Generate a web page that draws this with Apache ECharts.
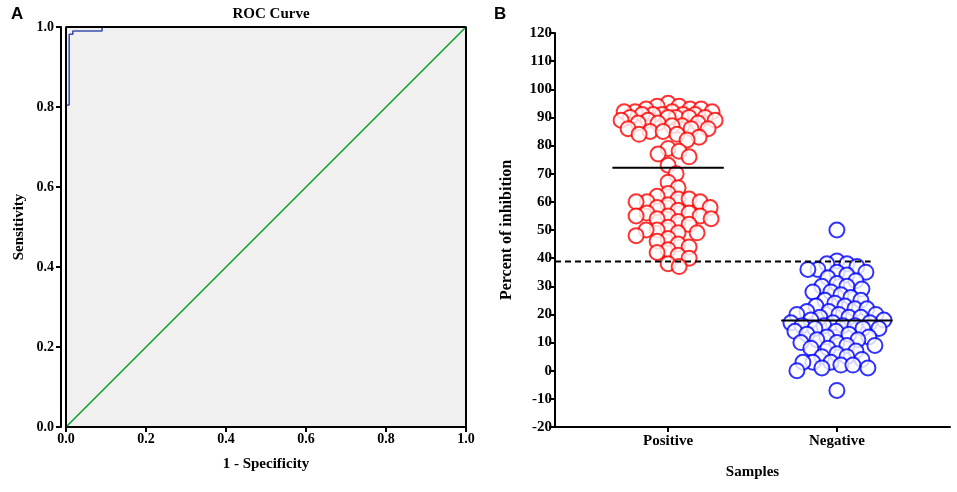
<!DOCTYPE html>
<html>
<head>
<meta charset="utf-8">
<script src="https://cdn.jsdelivr.net/npm/echarts@6/dist/echarts.min.js"></script>
<style>
  html, body { margin: 0; padding: 0; background: #fff; }
  #main { width: 957px; height: 492px; }
</style>
</head>
<body>
<div id="main"></div>
<script>
// ROC curve (panel A)
var rocFpr = [0, 0, 0.008, 0.008, 0.017, 0.017, 0.09, 0.09, 1];
var rocTpr = [0, 0.805, 0.805, 0.982, 0.982, 0.99, 0.99, 1, 1];

// Percent of inhibition (panel B)
var sampleNames = ['Positive', 'Negative'];
var positiveVals = [95, 94, 94, 93, 93, 93, 92, 92, 92, 92, 91, 91, 91, 91, 91, 90, 90, 90, 90, 90,
  89, 89, 89, 88, 88, 88, 87, 87, 86, 86, 86, 85, 85, 84, 84, 83, 82,
  79, 78, 77, 76, 73, 70, 67, 65, 63,
  62, 61, 61, 60, 60, 60, 59, 58, 58, 57, 56, 56, 55, 55, 55, 54, 54, 53, 52, 51, 50, 50, 49, 49,
  48, 47, 46, 45, 44, 43, 42, 41, 40, 38, 37];
var negativeVals = [50, 39, 38, 38, 37, 36, 36, 35, 35, 34, 33, 32, 31, 30, 30, 29, 28, 28, 27, 26,
  25, 25, 24, 23, 23, 22, 22, 21, 21, 20, 20, 20, 19, 19, 19, 18, 18, 17, 17, 17,
  16, 16, 16, 16, 15, 15, 15, 14, 14, 13, 13, 12, 12, 11, 11, 10, 10, 9, 9, 8,
  8, 7, 6, 5, 5, 4, 3, 3, 3, 2, 2, 1, 1, 0, -7];
var positiveMean = 72.1;
var negativeMean = 17.8;
var cutoff = 38.8;

var serif = 'Liberation Serif';
var chart = echarts.init(document.getElementById('main'));

var rocData = rocFpr.map(function (x, i) { return [x, rocTpr[i]]; });

var option = {
  animation: false,
  title: {
    text: 'ROC Curve',
    left: 266, top: 2, textAlign: 'center',
    textStyle: { fontFamily: serif, fontWeight: 'bold', fontSize: 15, color: '#000' }
  },
  graphic: [
    { type: 'text', left: 11, top: 6, style: { text: 'A', font: 'bold 17px Liberation Sans', fill: '#000' } },
    { type: 'text', left: 494, top: 6, style: { text: 'B', font: 'bold 17px Liberation Sans', fill: '#000' } }
  ],
  grid: [
    { left: 66, right: 491, top: 27, bottom: 65, show: true, backgroundColor: '#f0f0f0', borderWidth: 0 },
    { left: 555, right: 7, top: 33, bottom: 65 }
  ],
  xAxis: [
    {
      gridIndex: 0, type: 'value', min: 0, max: 1, interval: 0.2,
      name: '1 - Specificity', nameLocation: 'middle', nameGap: 30,
      nameTextStyle: { fontFamily: serif, fontWeight: 'bold', fontSize: 15, color: '#000' },
      axisLine: { onZero: false, lineStyle: { color: '#000', width: 2 } },
      axisTick: { show: true, length: 5, lineStyle: { color: '#000', width: 2 } },
      axisLabel: { fontFamily: serif, fontWeight: 'bold', fontSize: 14, color: '#000', margin: 5,
        formatter: function (v) { return v.toFixed(1); } },
      splitLine: { show: false }
    },
    {
      gridIndex: 1, type: 'value', min: 0.33, max: 2.67,
      name: 'Samples', nameLocation: 'middle', nameGap: 38,
      nameTextStyle: { fontFamily: serif, fontWeight: 'bold', fontSize: 15, color: '#000' },
      axisLine: { onZero: false, lineStyle: { color: '#000', width: 2 } },
      axisTick: { show: true, length: 5, customValues: [1, 2], lineStyle: { color: '#000', width: 2 } },
      axisLabel: { fontFamily: serif, fontWeight: 'bold', fontSize: 15, color: '#000', margin: 7,
        customValues: [1, 2],
        formatter: function (v) { return sampleNames[Math.round(v) - 1] || ''; } },
      splitLine: { show: false }
    }
  ],
  yAxis: [
    {
      gridIndex: 0, type: 'value', min: 0, max: 1, interval: 0.2, offset: 5,
      name: 'Sensitivity', nameLocation: 'middle', nameGap: 34,
      nameTextStyle: { fontFamily: serif, fontWeight: 'bold', fontSize: 15, color: '#000' },
      axisLine: { show: true, onZero: false, lineStyle: { color: '#000', width: 2 } },
      axisTick: { show: true, length: 5, lineStyle: { color: '#000', width: 2 } },
      axisLabel: { fontFamily: serif, fontWeight: 'bold', fontSize: 14, color: '#000', margin: 7,
        formatter: function (v) { return v.toFixed(1); } },
      splitLine: { show: false }
    },
    {
      gridIndex: 1, type: 'value', min: -20, max: 120, interval: 10,
      name: 'Percent of inhibition', nameLocation: 'middle', nameGap: 40,
      nameTextStyle: { fontFamily: serif, fontWeight: 'bold', fontSize: 16, color: '#000' },
      axisLine: { show: true, onZero: false, lineStyle: { color: '#000', width: 2 } },
      axisTick: { show: true, length: 6, lineStyle: { color: '#000', width: 2 } },
      axisLabel: { fontFamily: serif, fontWeight: 'bold', fontSize: 15, color: '#000', margin: 3 },
      splitLine: { show: false }
    }
  ],
  series: [
    {
      type: 'line', xAxisIndex: 0, yAxisIndex: 0, symbol: 'none', silent: true,
      data: [[0, 0], [1, 1]],
      lineStyle: { color: '#14a02a', width: 1.6 }
    },
    {
      type: 'line', xAxisIndex: 0, yAxisIndex: 0, symbol: 'none', silent: true,
      data: rocData,
      lineStyle: { color: '#3a4fae', width: 1.6 }
    },
    {
      // plot frame, drawn over the curve like the original
      type: 'line', xAxisIndex: 0, yAxisIndex: 0, symbol: 'none', silent: true, z: 5,
      data: [[0, 0], [0, 1], [1, 1], [1, 0]],
      lineStyle: { color: '#000', width: 2 }
    },
    {
      type: 'line', xAxisIndex: 1, yAxisIndex: 1, symbol: 'none', silent: true,
      data: [[0.33, cutoff], [2.2, cutoff]],
      lineStyle: { color: '#000', width: 2, type: [6, 4] }
    },
    {
      type: 'line', xAxisIndex: 1, yAxisIndex: 1, symbol: 'none', silent: true,
      data: [[0.67, positiveMean], [1.33, positiveMean]],
      lineStyle: { color: '#000', width: 2 }
    },
    {
      type: 'line', xAxisIndex: 1, yAxisIndex: 1, symbol: 'none', silent: true,
      data: [[1.67, negativeMean], [2.33, negativeMean]],
      lineStyle: { color: '#000', width: 2 }
    },
    {
      name: 'Positive', type: 'scatter', xAxisIndex: 1, yAxisIndex: 1,
      symbol: 'circle', symbolSize: 15, data: [],
      itemStyle: { color: '#fff', borderColor: '#ff0000', borderWidth: 2 }
    },
    {
      name: 'Negative', type: 'scatter', xAxisIndex: 1, yAxisIndex: 1,
      symbol: 'circle', symbolSize: 15, data: [],
      itemStyle: { color: '#fff', borderColor: '#0000ff', borderWidth: 2 }
    }
  ]
};

chart.setOption(option);

// beeswarm with a width cap: nearest free spot to the centre, and when the
// row is full, the least crowded spot inside the cap (points overlap there)
function swarm(values, center, minDist, maxHalf) {
  var placed = [];
  var cands = [];
  for (var s = 0; s <= maxHalf; s += 1) { cands.push(s); if (s) cands.push(-s); }
  return values.map(function (v) {
    var p = chart.convertToPixel({ gridIndex: 1 }, [center, v]);
    var best = null, bestGap = -1, bestAt = 0;
    for (var i = 0; i < cands.length; i++) {
      var c = cands[i];
      var gap = Infinity;
      placed.forEach(function (q) {
        var ddx = q.dx - c, ddy = q.y - p[1];
        gap = Math.min(gap, Math.sqrt(ddx * ddx + ddy * ddy));
      });
      if (gap >= minDist) { best = c; break; }
      if (gap > bestGap) { bestGap = gap; bestAt = c; }
    }
    if (best === null) best = bestAt;
    placed.push({ dx: best, y: p[1] });
    var back = chart.convertFromPixel({ gridIndex: 1 }, [p[0] + best, p[1]]);
    return [back[0], v];
  });
}

chart.setOption({
  series: [{}, {}, {}, {}, {}, {},
    { data: swarm(positiveVals, 1, 11, 47) },
    { data: swarm(negativeVals, 2, 10, 47) }
  ]
});
</script>
</body>
</html>
